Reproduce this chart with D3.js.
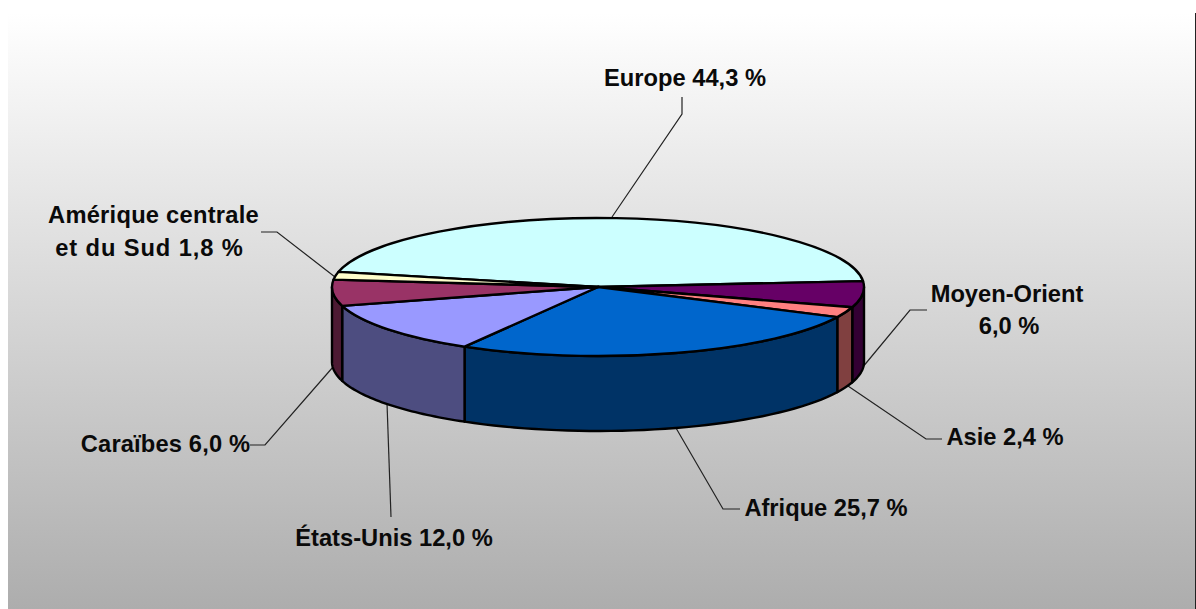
<!DOCTYPE html>
<html><head><meta charset="utf-8">
<script src="https://cdn.jsdelivr.net/npm/d3@7"></script>
<style>html,body{margin:0;padding:0;background:#fff;overflow:hidden}svg{display:block}</style>
</head><body><svg id="c" width="1196" height="609"></svg>
<script>
const categories = ["Europe","Moyen-Orient","Asie","Afrique","États-Unis","Caraïbes","Amérique centrale et du Sud"];
const values = [44.3,6.0,2.4,25.7,12.0,6.0,1.8];
const topColors = ["#CCFFFF","#660066","#FF8080","#0066CC","#9999FF","#993366","#FFFFCC"];
const labelLines = [["Europe 44,3 %"],["Moyen-Orient","6,0 %"],["Asie 2,4 %"],["Afrique 25,7 %"],["États-Unis 12,0 %"],["Caraïbes 6,0 %"],["Amérique centrale","et du Sud 1,8 %"]];

// layout (separate from the data)
const W=1196,H=609,cx=598,cy=287,rx=266,ry=69,depth=75;
const rad=d=>d*Math.PI/180;
const labelLayout=[
 {lines:[[685,86,0]],leader:[[612,217],[682,114],[682,97]]},
 {lines:[[1007,302,0],[1009,334,0]],leader:[[862,368],[910,310],[927,310]]},
 {lines:[[1005,445,0]],leader:[[848,386],[926,439],[942,439]]},
 {lines:[[826,516,0]],leader:[[676,428],[723,509],[740,509]]},
 {lines:[[394,546,0]],leader:[[387,403],[391,517]]},
 {lines:[[165.5,452,0.15]],leader:[[333,367],[265,445],[250,445]]},
 {lines:[[153.5,223,0.25],[149.5,256,0.9]],leader:[[335,277],[277,232],[261,232]]}
];

const svg=d3.select("#c");
const defs=svg.append("defs");
const g=defs.append("linearGradient").attr("id","bg").attr("x1",0).attr("y1",0).attr("x2",0).attr("y2",1);
g.append("stop").attr("offset",0).attr("stop-color","#ffffff");
g.append("stop").attr("offset",1).attr("stop-color","#adadad");
svg.append("rect").attr("x",0).attr("y",0).attr("width",W).attr("height",H).attr("fill","#fff");
svg.append("rect").attr("x",8).attr("y",13).attr("width",1187).attr("height",H-13).attr("fill","url(#bg)");
svg.append("rect").attr("x",1195).attr("y",13).attr("width",1).attr("height",H-13).attr("fill","#222");

const pie=d3.pie().sort(null).value(d=>d).startAngle(rad(-77.3)).endAngle(rad(282.7));
const arcs=pie(values);
const xAt=a=>cx+rx*Math.sin(a), yAt=a=>cy-ry*Math.cos(a);
const wallColor=c=>{const k=d3.rgb(c);return d3.rgb(k.r/2,k.g/2,k.b/2).formatHex();};

// leaders behind the pie
const line=d3.line();
svg.append("g").selectAll("path").data(labelLayout).join("path")
 .attr("d",d=>line(d.leader)).attr("fill","none").attr("stroke","#222").attr("stroke-width",1.2);

// side walls
const wallPath=(a0,a1)=>{
 const n=40,s=d3.range(n+1).map(i=>a0+(a1-a0)*i/n);
 const top=s.map(a=>[xAt(a),yAt(a)]);
 const bot=s.slice().reverse().map(a=>[xAt(a),yAt(a)+depth]);
 return line(top.concat(bot))+"Z";
};
const visible=arcs.map((d,i)=>({a0:Math.max(d.startAngle,rad(90)),a1:Math.min(d.endAngle,rad(270)),c:topColors[i]})).filter(d=>d.a1>d.a0);
svg.append("g").selectAll("path").data(visible).join("path")
 .attr("d",d=>wallPath(d.a0,d.a1)).attr("fill",d=>wallColor(d.c))
 .attr("stroke","#000").attr("stroke-width",2.4).attr("stroke-linejoin","round");

// top
const arc=d3.arc().innerRadius(0).outerRadius(rx);
svg.append("g").attr("transform",`translate(${cx},${cy}) scale(1,${ry/rx})`)
 .selectAll("path").data(arcs).join("path")
 .attr("d",arc).attr("fill",(d,i)=>topColors[i])
 .attr("stroke","#000").attr("stroke-width",2.4).attr("stroke-linejoin","round")
 .attr("vector-effect","non-scaling-stroke");

// labels
const t=svg.append("g").attr("font-family","'Liberation Sans',Arial,sans-serif").attr("font-weight","bold").attr("font-size",23.7).attr("fill","#0a0a0a").attr("text-anchor","middle");
labelLines.forEach((ls,i)=>ls.forEach((s,j)=>{
 const p=labelLayout[i].lines[j];
 t.append("text").attr("x",p[0]).attr("y",p[1]).attr("letter-spacing",p[2]).text(s);
}));
</script></body></html>
